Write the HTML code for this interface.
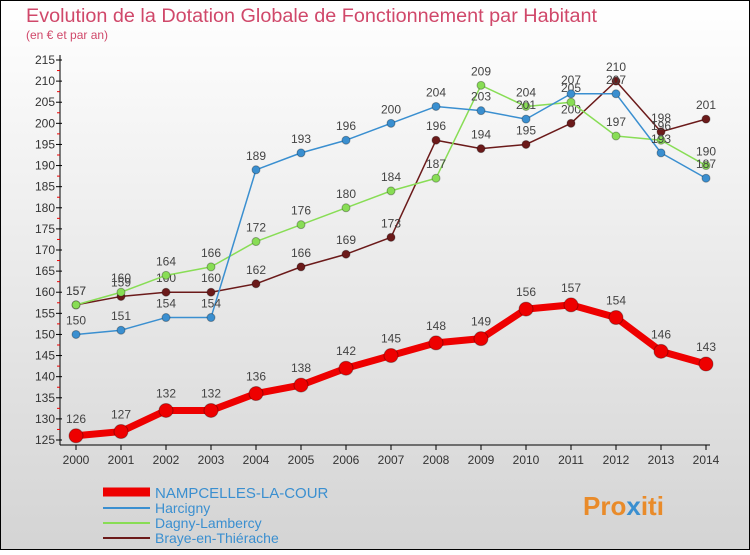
<!DOCTYPE html>
<html><head><meta charset="utf-8"><style>
body{margin:0;width:750px;height:550px;overflow:hidden;font-family:"Liberation Sans",sans-serif}
svg text{font-family:"Liberation Sans",sans-serif}
</style></head><body>
<svg id="c" width="750" height="550" xmlns="http://www.w3.org/2000/svg">
<defs><linearGradient id="bg" x1="0" y1="0" x2="0" y2="1"><stop offset="0" stop-color="#ffffff"/><stop offset="1" stop-color="#d4d4d4"/></linearGradient></defs>
<rect x="0.5" y="0.5" width="749" height="549" fill="url(#bg)" stroke="#000"/>
<text x="26" y="22" font-size="19" textLength="571" lengthAdjust="spacingAndGlyphs" fill="#d0486a">Evolution de la Dotation Globale de Fonctionnement par Habitant</text>
<text x="26" y="39" font-size="12" fill="#d0486a">(en € et par an)</text>
<g id="axes"></g><g id="series"></g>
<g>
<line x1="103" y1="492" x2="150" y2="492" stroke="#e00" stroke-width="9"/>
<text x="155" y="498" font-size="15" fill="#3a8fd0">NAMPCELLES-LA-COUR</text>
<line x1="103" y1="508" x2="150" y2="508" stroke="#3a8fd0" stroke-width="2"/>
<text x="155" y="513" font-size="14" fill="#3a8fd0">Harcigny</text>
<line x1="103" y1="523" x2="150" y2="523" stroke="#88dd55" stroke-width="2"/>
<text x="155" y="528" font-size="14" fill="#3a8fd0">Dagny-Lambercy</text>
<line x1="103" y1="538" x2="150" y2="538" stroke="#6b1a1a" stroke-width="2"/>
<text x="155" y="543" font-size="14" fill="#3a8fd0">Braye-en-Thiérache</text>
</g>
<text x="583" y="515" font-size="26" font-weight="bold" fill="#e98b2a">Pro<tspan fill="#3a8fd0">x</tspan>iti</text>
</svg>
<script>
const years=[2000,2001,2002,2003,2004,2005,2006,2007,2008,2009,2010,2011,2012,2013,2014];
const nampcelles=[126,127,132,132,136,138,142,145,148,149,156,157,154,146,143];
const harcigny=[150,151,154,154,189,193,196,200,204,203,201,207,207,193,187];
const dagny=[157,160,164,166,172,176,180,184,187,209,204,205,197,196,190];
const braye=[157,159,160,160,162,166,169,173,196,194,195,200,210,198,201];
const yTicks=[125,130,135,140,145,150,155,160,165,170,175,180,185,190,195,200,205,210,215];
const NS='http://www.w3.org/2000/svg';
const X=y=>76+(y-2000)*45;
const Y=v=>440-(v-125)*380/90;
function mk(t,a,p){const e=document.createElementNS(NS,t);for(const k in a)e.setAttribute(k,a[k]);p.appendChild(e);return e;}
const ax=document.getElementById('axes');
const ya=mk('line',{x1:60,y1:55,x2:60,y2:445,stroke:'#000'},ax);


const xa=mk('line',{x1:60,y1:445,x2:710,y2:445,stroke:'#000'},ax);


yTicks.forEach(v=>{
 mk('line',{x1:56,y1:Y(v),x2:62,y2:Y(v),stroke:'#000'},ax);
 if(v<215)mk('line',{x1:57,y1:Y(v+2.5),x2:60,y2:Y(v+2.5),stroke:'#e00'},ax);
 const t=mk('text',{x:55,y:Y(v)+4,'font-size':12,'text-anchor':'end',fill:'#333'},ax);t.textContent=v;
 
 
});
years.forEach(y=>{
 mk('line',{x1:X(y),y1:445,x2:X(y),y2:450,stroke:'#000'},ax);
 const t=mk('text',{x:X(y),y:464,'font-size':12,'text-anchor':'middle',fill:'#333'},ax);t.textContent=y;
 
 
});
const sg=document.getElementById('series');
function series(vals,color,w,r,name){
 const g=mk('g',{},sg);
 
 
 const pl=mk('polyline',{points:vals.map((v,i)=>X(years[i])+','+Y(v)).join(' '),fill:'none',stroke:color,'stroke-width':w,'stroke-linejoin':'round'},g);
 
 
 vals.forEach((v,i)=>{
  const c=mk('circle',{cx:X(years[i]),cy:Y(v),r:r,fill:color,stroke:'rgba(0,0,0,0.3)'},g);
  
  
  const t=mk('text',{x:X(years[i]),y:Y(v)-(r+6),'font-size':12,'text-anchor':'middle',fill:'#444'},g);t.textContent=v;
  
  
 });
}
series(braye,'#6b1a1a',1.5,4,'braye-series');
series(dagny,'#88dd55',1.5,4,'dagny-series');
series(harcigny,'#3a8fd0',1.5,4,'harcigny-series');
series(nampcelles,'#ee0000',7,7,'nampcelles-series');
</script>
</body></html>
